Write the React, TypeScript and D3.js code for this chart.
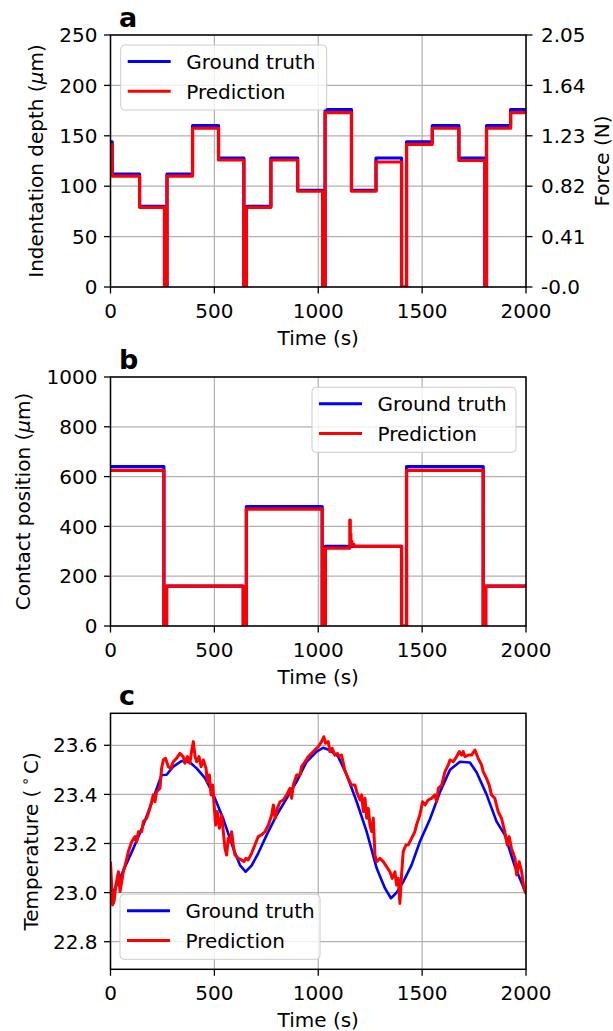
import React from 'react';
import * as d3 from 'd3';

// ---------- data ----------
const timeTicks = [0, 500, 1000, 1500, 2000];
const depthTicks = [0, 50, 100, 150, 200, 250];
const forceTickLabels = ['-0.0', '0.41', '0.82', '1.23', '1.64', '2.05'];
const contactTicks = [0, 200, 400, 600, 800, 1000];
const tempTicks = [22.8, 23.0, 23.2, 23.4, 23.6];

// panel a: indentation depth (step segments, value holds from time until next time)
const depthTimes = [0, 8, 140, 260, 272, 395, 520, 642, 654, 772, 901, 1021, 1033, 1160, 1278, 1401, 1425, 1549, 1677, 1802, 1810, 1926, 2000];
const depthTruth = [144, 112, 80, 0, 112, 160, 128, 0, 80, 128, 96, 0, 176, 96, 128, 0, 144, 160, 128, 0, 160, 176, 176];
const depthPred = [141, 110, 79, 0, 110, 157.5, 126, 0, 79, 126, 95, 0, 173, 95, 124, 0, 141.5, 157.5, 125.5, 0, 157.5, 173, 173];

// panel b: contact position
const contactTimes = [0, 257, 270, 639, 654, 1019, 1034, 1401, 1425, 1794, 1806, 2000];
const contactTruth = [640, 0, 160, 0, 480, 0, 320, 0, 640, 0, 160, 160];
const contactPredTimes = [0, 257, 270, 639, 654, 1019, 1034, 1152, 1154, 1157, 1162, 1172, 1401, 1425, 1794, 1806, 2000];
const contactPred = [625, 0, 160, 0, 469, 0, 313, 425, 370, 340, 328, 320, 0, 625, 0, 160, 160];

// panel c: temperature
const tempTimes = [0, 46, 110, 158, 206, 246, 270, 302, 342, 383, 415, 455, 495, 543, 591, 623, 650, 679, 711, 752, 800, 848, 896, 944, 992, 1024, 1056, 1096, 1137, 1185, 1233, 1281, 1321, 1350, 1377, 1409, 1449, 1489, 1538, 1586, 1634, 1682, 1730, 1762, 1810, 1858, 1898, 1947, 2000];
const tempTruth = [22.98, 23.06, 23.18, 23.275, 23.384, 23.479, 23.48, 23.513, 23.536, 23.53, 23.506, 23.466, 23.40, 23.30, 23.18, 23.112, 23.085, 23.11, 23.16, 23.235, 23.316, 23.384, 23.452, 23.533, 23.574, 23.59, 23.58, 23.554, 23.479, 23.37, 23.248, 23.10, 23.018, 22.977, 23.0, 23.044, 23.112, 23.207, 23.30, 23.41, 23.50, 23.533, 23.53, 23.49, 23.40, 23.29, 23.235, 23.105, 22.997];
const tempPredTimes = [0, 10, 17, 26, 38, 46, 54, 62, 75, 86, 102, 118, 126, 134, 150, 158, 174, 190, 206, 214, 222, 238, 246, 254, 265, 278, 290, 302, 318, 334, 350, 358, 370, 382, 390, 399, 407, 415, 426, 436, 447, 460, 466, 476, 484, 492, 500, 506, 514, 524, 535, 543, 551, 559, 567, 575, 583, 591, 599, 615, 631, 642, 652, 663, 679, 695, 711, 727, 743, 760, 776, 784, 792, 803, 816, 832, 848, 864, 872, 880, 896, 912, 920, 936, 952, 968, 984, 1000, 1016, 1027, 1035, 1048, 1056, 1067, 1080, 1092, 1101, 1112, 1128, 1144, 1160, 1177, 1185, 1201, 1209, 1217, 1225, 1233, 1241, 1249, 1257, 1265, 1273, 1281, 1297, 1313, 1329, 1345, 1356, 1369, 1377, 1385, 1393, 1401, 1409, 1422, 1433, 1449, 1465, 1473, 1489, 1502, 1514, 1529, 1545, 1562, 1570, 1578, 1594, 1610, 1626, 1634, 1650, 1666, 1679, 1690, 1698, 1706, 1722, 1738, 1754, 1770, 1786, 1794, 1810, 1823, 1834, 1850, 1866, 1882, 1890, 1898, 1910, 1919, 1930, 1947, 1955, 1967, 1979, 1990, 2000];
const tempPred = [23.126, 22.95, 22.963, 23.031, 23.085, 23.004, 23.045, 23.085, 23.126, 23.167, 23.207, 23.228, 23.207, 23.248, 23.248, 23.289, 23.303, 23.343, 23.398, 23.37, 23.411, 23.425, 23.506, 23.54, 23.547, 23.513, 23.506, 23.533, 23.547, 23.567, 23.554, 23.527, 23.554, 23.527, 23.574, 23.615, 23.554, 23.533, 23.554, 23.513, 23.54, 23.506, 23.452, 23.479, 23.398, 23.438, 23.343, 23.275, 23.33, 23.262, 23.316, 23.248, 23.18, 23.153, 23.221, 23.207, 23.248, 23.194, 23.153, 23.14, 23.133, 23.126, 23.14, 23.133, 23.16, 23.194, 23.228, 23.235, 23.248, 23.275, 23.316, 23.357, 23.303, 23.343, 23.37, 23.377, 23.398, 23.425, 23.384, 23.438, 23.479, 23.479, 23.513, 23.533, 23.554, 23.567, 23.581, 23.594, 23.615, 23.635, 23.608, 23.615, 23.574, 23.588, 23.56, 23.567, 23.554, 23.56, 23.499, 23.465, 23.438, 23.438, 23.411, 23.377, 23.398, 23.33, 23.384, 23.303, 23.343, 23.275, 23.248, 23.303, 23.153, 23.126, 23.14, 23.126, 23.106, 23.085, 23.058, 23.085, 23.031, 23.058, 22.956, 23.072, 23.167, 23.194, 23.194, 23.221, 23.248, 23.275, 23.316, 23.37, 23.357, 23.377, 23.384, 23.398, 23.37, 23.425, 23.438, 23.493, 23.52, 23.54, 23.533, 23.554, 23.574, 23.56, 23.574, 23.554, 23.56, 23.56, 23.581, 23.547, 23.52, 23.493, 23.465, 23.438, 23.398, 23.384, 23.33, 23.303, 23.275, 23.248, 23.194, 23.228, 23.18, 23.14, 23.072, 23.126, 23.085, 23.017, 22.997];

const legendLabels = ['Ground truth', 'Prediction'];
const seriesColors = ['#0000ff', '#ff0000'];

// ---------- layout ----------
const FONT = "'DejaVu Sans', sans-serif";
const FS = 20;
const X0 = 110.5;
const X1 = 526;
const GRID = '#b0b0b0';

const xScale = d3.scaleLinear().domain([0, 2000]).range([X0, X1]);

type Series = { times: number[]; values: number[]; color: string; width: number; step: boolean };

type PanelProps = {
  top: number;
  bottom: number;
  yDomain: [number, number];
  yTicks: number[];
  yFmt: (v: number) => string;
  ylabel: React.ReactNode;
  ylabelX: number;
  letter: string;
  legendX: number;
  legendY: number;
  legendW: number;
  series: Series[];
  rightLabels?: string[];
  clipId: string;
};

function Panel(p: PanelProps) {
  const y = d3.scaleLinear().domain(p.yDomain).range([p.bottom, p.top]);
  const midY = (p.top + p.bottom) / 2;
  const lineFor = (s: Series) => {
    const pts: [number, number][] = s.times.map((t, i) => [t, s.values[i]]);
    const gen = d3
      .line<[number, number]>()
      .x((d) => xScale(d[0]))
      .y((d) => y(d[1]))
      .curve(s.step ? d3.curveStepAfter : d3.curveLinear);
    return gen(pts) || '';
  };
  return (
    <g>
      <defs>
        <clipPath id={p.clipId}>
          <rect x={X0} y={p.top} width={X1 - X0} height={p.bottom - p.top} />
        </clipPath>
      </defs>
      {/* grid */}
      {timeTicks.map((t) => (
        <line key={'gx' + t} x1={xScale(t)} x2={xScale(t)} y1={p.top} y2={p.bottom} stroke={GRID} strokeWidth={1.2} />
      ))}
      {p.yTicks.map((v) => (
        <line key={'gy' + v} x1={X0} x2={X1} y1={y(v)} y2={y(v)} stroke={GRID} strokeWidth={1.2} />
      ))}
      {/* data */}
      <g clipPath={`url(#${p.clipId})`}>
        {p.series.map((s, i) => (
          <path key={i} d={lineFor(s)} fill="none" stroke={s.color} strokeWidth={s.width} strokeLinejoin="round" />
        ))}
      </g>
      {/* spines */}
      <rect x={X0} y={p.top} width={X1 - X0} height={p.bottom - p.top} fill="none" stroke="#000" strokeWidth={1.5} />
      {/* x ticks */}
      {timeTicks.map((t) => (
        <g key={'xt' + t}>
          <line x1={xScale(t)} x2={xScale(t)} y1={p.bottom} y2={p.bottom + 6.5} stroke="#000" strokeWidth={1.3} />
          <text x={xScale(t)} y={p.bottom + 31} textAnchor="middle" fontSize={FS} fontFamily={FONT}>
            {t}
          </text>
        </g>
      ))}
      <text x={(X0 + X1) / 2} y={p.bottom + 57.5} textAnchor="middle" fontSize={FS} fontFamily={FONT}>
        Time (s)
      </text>
      {/* y ticks */}
      {p.yTicks.map((v) => (
        <g key={'yt' + v}>
          <line x1={X0 - 6.5} x2={X0} y1={y(v)} y2={y(v)} stroke="#000" strokeWidth={1.3} />
          <text x={X0 - 13} y={y(v) + 7.2} textAnchor="end" fontSize={FS} fontFamily={FONT}>
            {p.yFmt(v)}
          </text>
        </g>
      ))}
      <text
        transform={`translate(${p.ylabelX},${midY}) rotate(-90)`}
        textAnchor="middle"
        fontSize={FS}
        fontFamily={FONT}
      >
        {p.ylabel}
      </text>
      {p.rightLabels && (
        <g>
          {p.yTicks.map((v, i) => (
            <g key={'rt' + v}>
              <line x1={X1} x2={X1 + 6.5} y1={y(v)} y2={y(v)} stroke="#000" strokeWidth={1.3} />
              <text x={X1 + 15} y={y(v) + 7.2} textAnchor="start" fontSize={FS} fontFamily={FONT}>
                {p.rightLabels![i]}
              </text>
            </g>
          ))}
          <text transform={`translate(609,${midY}) rotate(-90)`} textAnchor="middle" fontSize={FS} fontFamily={FONT}>
            Force (N)
          </text>
        </g>
      )}
      {/* panel letter */}
      <text x={119} y={p.top - 8.5} fontSize={27} fontWeight="bold" fontFamily={FONT}>
        {p.letter}
      </text>
      {/* legend */}
      <g>
        <rect
          x={p.legendX}
          y={p.legendY}
          width={p.legendW}
          height={65}
          rx={4}
          ry={4}
          fill="#ffffff"
          fillOpacity={0.8}
          stroke="#cccccc"
          strokeWidth={1}
        />
        {legendLabels.map((lab, i) => {
          const ly = p.legendY + 16.5 + i * 29.7;
          return (
            <g key={lab}>
              <line x1={p.legendX + 7} x2={p.legendX + 50} y1={ly} y2={ly} stroke={seriesColors[i]} strokeWidth={3} />
              <text x={p.legendX + 65.5} y={ly + 7.3} fontSize={FS} fontFamily={FONT}>
                {lab}
              </text>
            </g>
          );
        })}
      </g>
    </g>
  );
}

export default function App() {
  const micro = (prefix: string) => (
    <>
      {prefix} (<tspan fontStyle="italic">μ</tspan>m)
    </>
  );
  const tempLabel = (
    <>
      Temperature (<tspan dx={4} dy={-8} fontSize={14}>∘</tspan>
      <tspan dx={3} dy={8}>C)</tspan>
    </>
  );
  return (
    <div style={{ position: 'absolute', left: 0, top: 0 }}>
      <svg width={613} height={1031} viewBox="0 0 613 1031" style={{ display: 'block', background: '#fff' }}>
        <rect x={0} y={0} width={613} height={1031} fill="#fff" />
        <Panel
          top={35}
          bottom={287}
          yDomain={[0, 250]}
          yTicks={depthTicks}
          yFmt={(v) => String(v)}
          ylabel={micro('Indentation depth')}
          ylabelX={42.5}
          letter="a"
          legendX={120.7}
          legendY={45}
          legendW={206}
          clipId="clipA"
          rightLabels={forceTickLabels}
          series={[
            { times: depthTimes, values: depthTruth, color: seriesColors[0], width: 3.2, step: true },
            { times: depthTimes, values: depthPred, color: seriesColors[1], width: 3.2, step: true },
          ]}
        />
        <Panel
          top={377}
          bottom={626}
          yDomain={[0, 1000]}
          yTicks={contactTicks}
          yFmt={(v) => String(v)}
          ylabel={micro('Contact position')}
          ylabelX={29.5}
          letter="b"
          legendX={312}
          legendY={387.3}
          legendW={204}
          clipId="clipB"
          series={[
            { times: contactTimes, values: contactTruth, color: seriesColors[0], width: 3.2, step: true },
            { times: contactPredTimes, values: contactPred, color: seriesColors[1], width: 3.2, step: true },
          ]}
        />
        <Panel
          top={713.3}
          bottom={969.3}
          yDomain={[22.6876, 23.7303]}
          yTicks={tempTicks}
          yFmt={(v) => v.toFixed(1)}
          ylabel={tempLabel}
          ylabelX={37.5}
          letter="c"
          legendX={120}
          legendY={894.3}
          legendW={200}
          clipId="clipC"
          series={[
            { times: tempTimes, values: tempTruth, color: seriesColors[0], width: 2.6, step: false },
            { times: tempPredTimes, values: tempPred, color: seriesColors[1], width: 3, step: false },
          ]}
        />
      </svg>
    </div>
  );
}
